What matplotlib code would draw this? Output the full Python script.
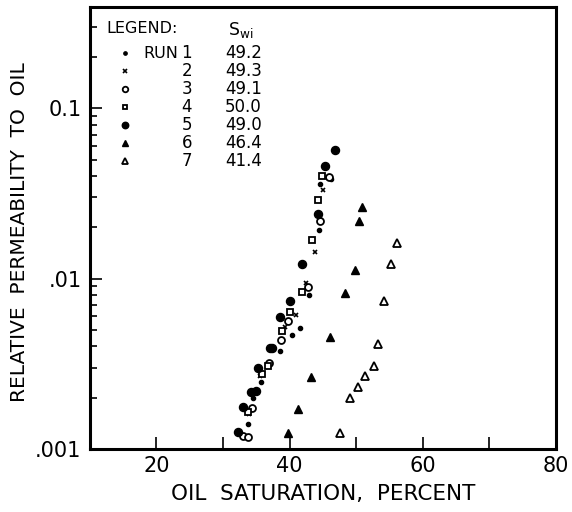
import matplotlib
matplotlib.use("Agg")
import matplotlib.pyplot as plt
from matplotlib.ticker import NullFormatter, LogLocator

# oil saturation (%) and relative permeability to oil, per run
run1_x = [33.8, 34.5, 35.7, 38.5, 40.4, 41.5, 42.9, 44.4, 44.5, 46.2]
run1_y = [0.0014, 0.0020, 0.00249, 0.00377, 0.00469, 0.00513, 0.0080, 0.0192, 0.036, 0.0387]
run2_x = [33.9, 35.5, 39.3, 40.9, 42.4, 43.8, 45.0]
run2_y = [0.0016, 0.0027, 0.0052, 0.0061, 0.0094, 0.0143, 0.033]
run3_x = [33.0, 33.7, 34.4, 36.9, 38.7, 39.8, 42.8, 44.5, 45.9]
run3_y = [0.00119, 0.00118, 0.00175, 0.00322, 0.00436, 0.00566, 0.0089, 0.0219, 0.0394]
run4_x = [33.8, 35.8, 36.8, 38.9, 40.1, 41.8, 43.3, 44.3, 44.9]
run4_y = [0.00164, 0.00275, 0.00308, 0.00494, 0.0064, 0.0084, 0.0169, 0.0288, 0.0403]
run5_x = [32.3, 33.0, 34.2, 34.9, 35.3, 37.0, 37.4, 38.5, 40.1, 41.9, 44.2, 45.3, 46.8]
run5_y = [0.00126, 0.00177, 0.00215, 0.0022, 0.00298, 0.00394, 0.0039, 0.00592, 0.00735, 0.0122, 0.024, 0.0456, 0.0566]
run6_x = [39.8, 41.2, 43.2, 46.1, 48.3, 49.8, 50.4, 50.8]
run6_y = [0.00125, 0.00171, 0.00263, 0.00456, 0.0082, 0.01125, 0.0218, 0.0262]
run7_x = [47.5, 49.0, 50.3, 51.3, 52.7, 53.2, 54.2, 55.3, 56.2]
run7_y = [0.00125, 0.00199, 0.0023, 0.00269, 0.00308, 0.00413, 0.00735, 0.0122, 0.0161]

run_labels = ["1", "2", "3", "4", "5", "6", "7"]
swi_values = ["49.2", "49.3", "49.1", "50.0", "49.0", "46.4", "41.4"]

x_ticks = [20, 30, 40, 50, 60, 70]
x_tick_labels = ["20", "", "40", "", "60", ""]
y_ticks = [0.001, 0.01, 0.1]
y_tick_labels = [".001", ".01", "0.1"]

# marker style for each run: (marker, size, filled)
styles = [("o", 3.0, True), ("x", 3.5, False), ("o", 5.0, False), ("s", 4.2, False),
          ("o", 5.8, True), ("^", 6.0, True), ("^", 5.2, False)]
series = [(run1_x, run1_y), (run2_x, run2_y), (run3_x, run3_y), (run4_x, run4_y),
          (run5_x, run5_y), (run6_x, run6_y), (run7_x, run7_y)]


def draw_marker(ax, xs, ys, m, s, filled, **kw):
    if filled:
        ax.plot(xs, ys, ls="none", marker=m, ms=s, color="black", **kw)
    elif m == "x":
        ax.plot(xs, ys, ls="none", marker=m, ms=s, mew=1.2, color="black", **kw)
    else:
        ax.plot(xs, ys, ls="none", marker=m, ms=s, mfc="white", mec="black", mew=1.3, **kw)


fig = plt.figure(figsize=(5.72, 5.12), dpi=100)
ax = fig.add_axes([0.157, 0.123, 0.815, 0.863])

for (xs, ys), (m, s, filled) in zip(series, styles):
    draw_marker(ax, xs, ys, m, s, filled)

ax.set_yscale("log")
ax.set_xlim(10, 80)
ax.set_ylim(0.001, 0.3926)

ax.set_xticks(x_ticks)
ax.set_xticklabels(x_tick_labels)
ax.set_yticks(y_ticks)
ax.set_yticklabels(y_tick_labels)
ax.yaxis.set_minor_locator(LogLocator(base=10, subs=range(2, 10)))
ax.yaxis.set_minor_formatter(NullFormatter())
ax.tick_params(axis="x", direction="in", length=8.6, width=1.2, labelsize=15, pad=5)
ax.tick_params(axis="y", which="major", direction="in", length=8.6, width=1.2, labelsize=15, pad=6)
ax.tick_params(axis="y", which="minor", direction="in", length=5, width=1.2)
# the 80 label sits at the right spine
ax.text(80, -0.016, "80", transform=ax.get_xaxis_transform(), ha="center", va="top", fontsize=15)

for sp in ax.spines.values():
    sp.set_linewidth(2.2)

ax.set_xlabel("OIL  SATURATION,  PERCENT", fontsize=15.5, labelpad=6)
ax.set_ylabel("RELATIVE  PERMEABILITY  TO  OIL", fontsize=14.5)
ax.yaxis.set_label_coords(-0.13, 0.49)

# hand-drawn legend block
ax.text(0.036, 0.952, "LEGEND:", transform=ax.transAxes, fontsize=11.5, va="center")
ax.text(0.296, 0.948, r"S$_{\rm wi}$", transform=ax.transAxes, fontsize=12.5, va="center")
y0, dy = 0.896, 0.0408
for i, ((m, s, filled), lab, val) in enumerate(zip(styles, run_labels, swi_values)):
    yy = y0 - i * dy
    draw_marker(ax, [0.075], [yy], m, s * 0.8, filled, transform=ax.transAxes)
    if i == 0:
        ax.text(0.114, yy, "RUN", transform=ax.transAxes, fontsize=11.5, va="center")
    ax.text(0.208, yy, lab, transform=ax.transAxes, fontsize=12, va="center", ha="center")
    ax.text(0.290, yy, val, transform=ax.transAxes, fontsize=12, va="center")

fig.savefig("out.png", dpi=100)
